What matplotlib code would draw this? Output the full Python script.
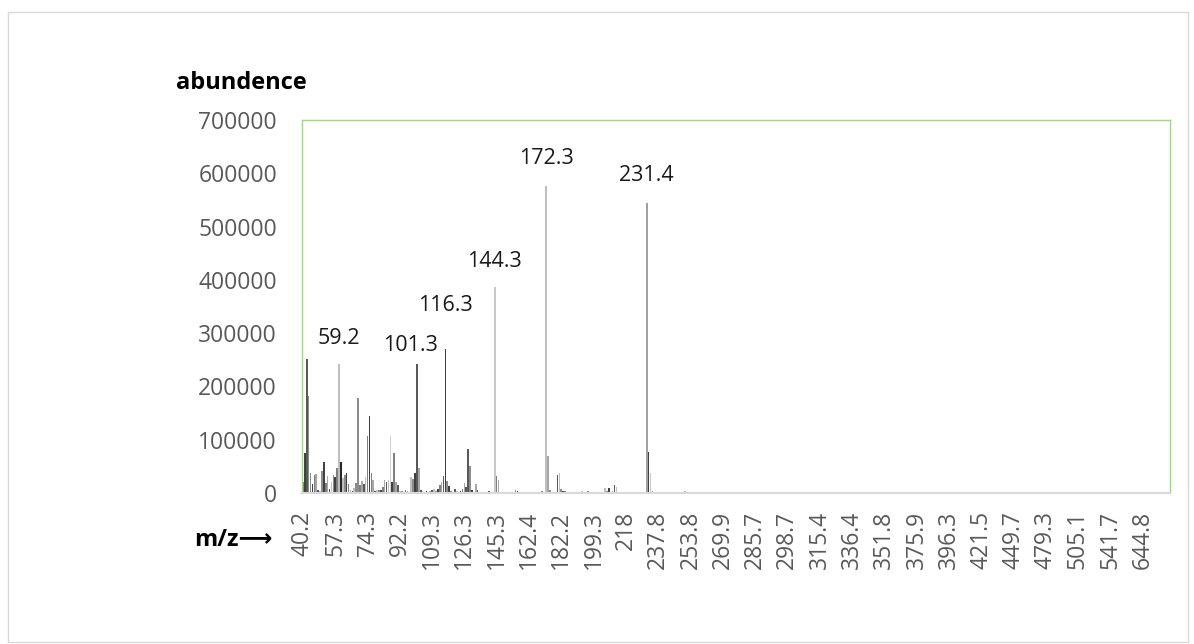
import numpy as np
import matplotlib
matplotlib.use("Agg")
import matplotlib.pyplot as plt
from matplotlib.patches import Rectangle

plt.rcParams['font.family'] = ['Open Sans', 'DejaVu Sans']

# ---------------- data ----------------
# m/z categories (one bar per category), 17 per labelled tick
mz_040 = [40.2, 41.2, 42.2, 43.2, 44.1, 45.1, 46.1, 47.1, 48.2, 49.1, 50.1, 51.1, 52.1, 53.2, 54.2, 55.2, 56.2]
mz_057 = [57.3, 58.2, 59.2, 60.2, 61.2, 62.1, 63.2, 64.2, 65.2, 66.2, 67.2, 68.2, 69.3, 70.2, 71.2, 72.2, 73.3]
mz_074 = [74.3, 75.3, 76.2, 77.2, 78.2, 79.2, 80.2, 81.3, 82.3, 83.3, 84.3, 85.3, 86.3, 87.2, 88.3, 89.3, 91.3]
mz_092 = [92.2, 93.2, 94.2, 95.2, 96.2, 97.3, 98.3, 99.2, 100.3, 101.3, 102.3, 103.3, 104.3, 105.2, 106.2, 107.2, 108.3]
mz_109 = [109.3, 110.3, 111.3, 112.3, 113.3, 114.3, 115.3, 116.3, 117.3, 118.3, 119.3, 120.3, 121.3, 122.3, 123.3, 124.3, 125.3]
mz_126 = [126.3, 127.3, 128.3, 129.3, 130.3, 131.3, 132.3, 133.3, 135.3, 136.3, 137.3, 138.3, 139.3, 140.3, 141.3, 143.3, 144.3]
mz_145 = [145.3, 146.3, 147.3, 148.3, 149.3, 150.3, 151.3, 152.3, 153.3, 154.3, 155.3, 156.3, 157.3, 158.3, 159.3, 160.3, 161.3]
mz_162 = [162.4, 163.3, 164.3, 165.3, 166.3, 167.3, 168.3, 169.3, 170.3, 172.3, 173.3, 174.3, 175.3, 176.3, 177.3, 179.3, 181.3]
mz_182 = [182.2, 183.2, 184.3, 185.3, 186.3, 187.3, 188.3, 189.3, 190.3, 191.3, 192.3, 193.3, 194.3, 195.3, 196.3, 197.3, 198.3]
mz_199 = [199.3, 200.3, 201.3, 202.3, 203.3, 204.3, 205.3, 207.3, 208.3, 209.3, 210.3, 211.3, 212.3, 213.3, 214.3, 215.3, 217.1]
mz_218 = [218, 219.2, 220.3, 221.3, 222.3, 223.3, 224.3, 225.3, 227.3, 229.3, 230.3, 231.4, 232.4, 233.4, 234.3, 235.3, 236.3]
mz_237 = [237.8, 238.6, 239.3, 240.3, 241.3, 242.3, 243.3, 244.3, 245.3, 246.3, 247.3, 248.3, 249.3, 250.2, 251.2, 252.3, 253.2]
mz_253 = [253.8, 254.9, 255.3, 256.3, 257.3, 258.3, 259.3, 260.3, 261.3, 262.3, 263.3, 264.3, 265.3, 266.3, 267.3, 268.3, 269.3]
mz_269 = [269.9, 270.9, 271.3, 272.3, 273.3, 274.3, 275.3, 276.3, 277.3, 278.3, 279.3, 280.3, 281.3, 282.3, 283.3, 284.3, 285.2]
mz_285 = [285.7, 286.5, 287.3, 288.0, 288.9, 289.7, 290.4, 291.3, 292.1, 292.9, 293.7, 294.6, 295.3, 296.1, 296.9, 297.6, 298.2]
mz_298 = [298.7, 299.6, 300.9, 301.8, 302.7, 303.8, 304.9, 305.8, 306.7, 307.8, 308.9, 309.8, 310.7, 311.8, 312.9, 313.8, 314.6]
mz_315 = [315.4, 316.7, 317.9, 319.1, 320.4, 321.6, 322.9, 324.1, 325.3, 326.6, 327.8, 329.0, 330.3, 331.5, 332.8, 334.0, 335.2]
mz_336 = [336.4, 337.3, 338.2, 339.1, 340.0, 341.1, 342.0, 342.9, 343.8, 344.7, 345.6, 346.5, 347.4, 348.3, 349.2, 350.1, 351.0]
mz_351 = [351.8, 353.2, 354.6, 356.0, 357.4, 358.8, 360.3, 361.7, 363.1, 364.5, 365.9, 367.3, 368.7, 370.2, 371.6, 373.0, 374.4]
mz_375 = [375.9, 377.1, 378.3, 379.5, 380.7, 381.9, 383.1, 384.3, 385.5, 386.7, 387.9, 389.1, 390.3, 391.5, 392.7, 393.9, 395.1]
mz_396 = [396.3, 397.8, 399.3, 400.8, 402.3, 403.7, 405.2, 406.7, 408.2, 409.7, 411.2, 412.7, 414.1, 415.6, 417.1, 418.6, 420.1]
mz_421 = [421.5, 423.2, 424.8, 426.5, 428.1, 429.8, 431.4, 433.1, 434.8, 436.4, 438.1, 439.7, 441.4, 443.0, 444.7, 446.4, 448.0]
mz_449 = [449.7, 451.4, 453.2, 454.9, 456.7, 458.4, 460.2, 461.9, 463.6, 465.4, 467.1, 468.9, 470.6, 472.3, 474.1, 475.8, 477.6]
mz_479 = [479.3, 480.8, 482.3, 483.9, 485.4, 486.9, 488.4, 489.9, 491.4, 493.0, 494.5, 496.0, 497.5, 499.0, 500.5, 502.1, 503.6]
mz_505 = [505.1, 507.3, 509.4, 511.6, 513.7, 515.9, 518.0, 520.2, 522.3, 524.5, 526.6, 528.8, 530.9, 533.1, 535.2, 537.4, 539.5]
mz_541 = [541.7, 547.8, 553.9, 559.9, 566.0, 572.0, 578.1, 584.2, 590.2, 596.3, 602.4, 608.4, 614.5, 620.5, 626.6, 632.7, 638.7]
mz_644 = [644.8, 652.1, 659.6, 667.2, 674.9, 682.3, 689.8, 697.4, 705.1, 712.6, 720.3, 727.9, 735.4, 743.2, 750.6]

mz = (mz_040 + mz_057 + mz_074 + mz_092 + mz_109 + mz_126 + mz_145 + mz_162 + mz_182
      + mz_199 + mz_218 + mz_237 + mz_253 + mz_269 + mz_285 + mz_298 + mz_315 + mz_336
      + mz_351 + mz_375 + mz_396 + mz_421 + mz_449 + mz_479 + mz_505 + mz_541 + mz_644)

# abundance (thousands), low-mass region
abund_low_k = [
    20, 76, 252, 182, 37, 16, 33, 35, 5, 3,
    41, 59, 18, 32, 7, 20, 33, 30, 47, 243,
    59, 29, 33, 38, 16, 6, 3, 10, 18, 178,
    15, 22, 16, 30, 107, 145, 37, 24, 4, 5,
    6, 6, 11, 24, 20, 24, 107, 20, 76, 20,
    15, 4, 4, 2, 5, 3, 2, 30, 27, 38,
    243, 47, 6, 4, 2, 3, 2, 3, 5, 7,
    3, 7, 15, 20, 32, 270, 22, 14, 3, 1,
    8, 3, 1, 3, 7, 18, 11, 82, 50, 5,
    2, 16, 5, 2, 1, 2, 1, 2, 3, 1,
    2, 386, 32, 24, 2, 1, 1, 2, 1, 1,
    1, 2, 5, 3, 2, 1, 1, 2, 1, 1,
    1, 1, 1, 2, 1, 1, 3, 2, 577, 69,
    5, 1, 1, 2, 33, 37, 8, 4, 3, 2,
    1, 2, 1, 1, 2, 1, 1, 3, 1, 1,
    3, 1, 1, 1, 1, 1, 1, 1, 2, 10,
    3, 10, 2, 3, 15, 12, 1, 1, 1, 1,
    1, 1, 1, 1, 1, 1, 1, 1, 1, 1,
    2, 545, 77, 37, 3, 1, 1, 1, 1, 1,
    1, 1, 1, 1, 1, 1, 1, 1, 1, 1,
    1, 3, 1, 1, 1, 1,
]
# abundance (thousands), high-mass region (practically empty)
abund_high_k = [
    1, 0, 1, 0, 0, 1, 0, 0, 0, 1, 0, 0, 0, 0, 1, 0, 0, 0, 0, 0,
    0, 1, 0, 0, 0, 0, 0, 0, 1, 0, 0, 0, 0, 0, 0, 0, 1, 0, 0, 0,
    0, 0, 0, 0, 0, 0, 0, 0, 0, 0, 0, 0, 0, 0, 0, 0, 0, 0, 0, 0,
    0, 0, 0, 0, 0, 0, 0, 0, 0, 0, 0, 0, 0, 0, 0, 0, 0, 0, 0, 0,
    0, 0, 0, 0, 0, 0, 0, 0, 0, 0, 0, 0, 0, 0, 0, 0, 0, 0, 0, 0,
    0, 0, 0, 0, 0, 0, 0, 0, 0, 0, 0, 0, 0, 0, 0, 0, 0, 0, 0, 0,
    0, 0, 0, 0, 0, 0, 0, 0, 0, 0, 0, 0, 0, 0, 0, 0, 0, 0, 0, 0,
    0, 0, 0, 0, 0, 0, 0, 0, 0, 0, 0, 0, 0, 0, 0, 0, 0, 0, 0, 0,
    0, 0, 0, 0, 0, 0, 0, 0, 0, 0, 0, 0, 0, 0, 0, 0, 0, 0, 0, 0,
    0, 0, 0, 0, 0, 0, 0, 0, 0, 0, 0, 0, 0, 0, 0, 0, 0, 0, 0, 0,
    0, 0, 0, 0, 0, 0, 0, 0, 0, 0, 0, 0, 0, 0, 0, 0, 0, 0, 0, 0,
    0, 0, 0, 0, 0, 0, 0, 0, 0, 0, 0, 0, 0, 0, 0, 0, 0, 0, 0, 0,
    0, 0, 0, 0, 0, 0, 0, 0, 0, 0, 0,
]

labelled_peaks = [59.2, 101.3, 116.3, 144.3, 172.3, 231.4]
y_ticks = [0, 100000, 200000, 300000, 400000, 500000, 600000, 700000]

# ---------------- style ----------------
label_offsets_px = {59.2: (0, 25), 101.3: (-6, 18), 116.3: (0, 44),
                    144.3: (0, 26), 172.3: (0, 27), 231.4: (0, 27)}
gray_cycle = ['#7f7f7f', '#a6a6a6', '#595959', '#bfbfbf', '#8c8c8c', '#404040']
shade_override = {1: '#404040', 2: '#595959', 3: '#8c8c8c', 17: '#404040', 19: '#bfbfbf',
                  20: '#262626', 29: '#8c8c8c', 34: '#7f7f7f', 35: '#404040', 46: '#d0d0d0',
                  48: '#7f7f7f', 60: '#595959', 75: '#404040', 87: '#595959', 101: '#c8c8c8',
                  128: '#bfbfbf', 129: '#a6a6a6', 181: '#a0a0a0', 182: '#404040', 183: '#c8c8c8'}

abund = np.array(abund_low_k + abund_high_k, dtype=float) * 1000
n = len(mz)
assert len(abund) == n, (len(abund), n)
x = np.arange(n)
colors = [shade_override.get(i, gray_cycle[i % len(gray_cycle)]) for i in range(n)]

W, H = 1194, 644
fig = plt.figure(figsize=(W / 100, H / 100), dpi=100)
fig.patch.set_facecolor('white')
fig.add_artist(Rectangle((8 / W, 2 / H), 1180 / W, 630 / H, transform=fig.transFigure,
                         fill=False, edgecolor='#d9d9d9', linewidth=1.0))

ax = fig.add_axes([302 / W, 151 / H, 868 / W, 373 / H])
ax.bar(x, abund, width=0.85, color=colors, linewidth=0)
ax.set_xlim(-0.5, n - 0.5)
ax.set_ylim(0, 700000)
ax.set_yticks(y_ticks)
ax.set_yticklabels([str(v) for v in y_ticks])
tick_idx = x[::17]
ax.set_xticks(tick_idx)
ax.set_xticklabels([f'{mz[i]:g}' for i in tick_idx], rotation=90)
ax.tick_params(axis='both', length=0, labelcolor='#595959', labelsize=16.5)
ax.tick_params(axis='y', pad=18)
ax.tick_params(axis='x', pad=13)

for s in ('left', 'top', 'right'):
    ax.spines[s].set_color('#a9d18e')
    ax.spines[s].set_linewidth(1.0)
ax.spines['bottom'].set_color('#d9d9d9')
ax.spines['bottom'].set_linewidth(1.5)

for v in labelled_peaks:
    i = mz.index(v)
    dx, dy = label_offsets_px[v]
    ax.annotate(f'{v:g}', xy=(i, abund[i]), xytext=(dx, dy), textcoords='offset pixels',
                ha='center', va='center', fontsize=15.5, color='#1a1a1a')

fig.text(241 / W, 1 - 83 / H, 'abundence', ha='center', va='center',
         fontsize=17, fontweight='bold', color='black')
fig.text(233 / W, 1 - 540 / H, 'm/z\u27f6', ha='center', va='center',
         fontsize=17, fontweight='bold', color='black')

fig.savefig('out.png', dpi=100, facecolor='white')
